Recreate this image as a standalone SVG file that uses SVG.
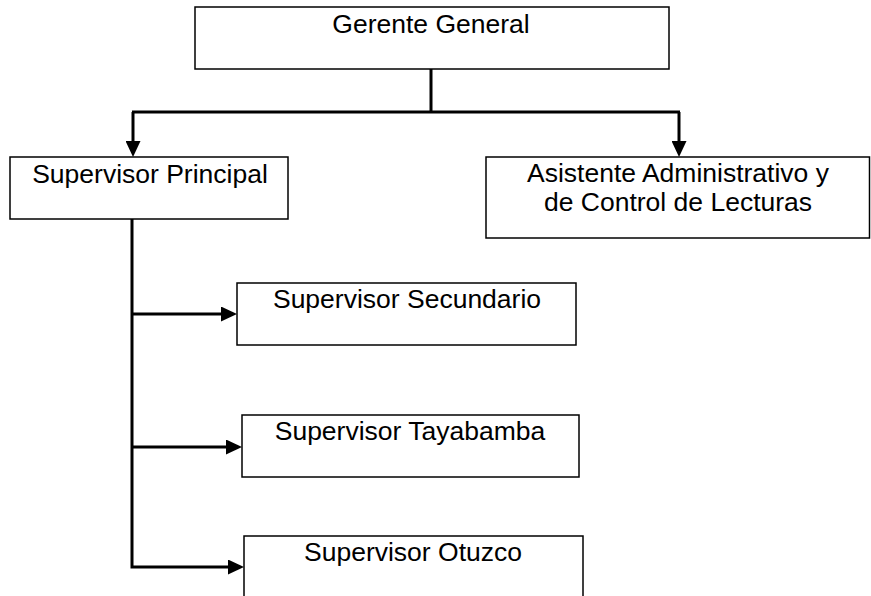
<svg xmlns="http://www.w3.org/2000/svg" width="871" height="596" viewBox="0 0 871 596">
<style>
.box{fill:#fff;stroke:#000;stroke-width:1.5}
.lbl{font-family:"Liberation Sans",Arial,sans-serif;font-size:26.5px;fill:#000;text-anchor:middle}
.con{fill:none;stroke:#000;stroke-width:3}
</style>
<defs>
<marker id="arr" viewBox="0 0 16 15" refX="0" refY="7.5" markerWidth="16" markerHeight="15" markerUnits="userSpaceOnUse" orient="auto">
<path d="M0,0 L16,7.5 L0,15 Z" fill="#000"/>
</marker>
</defs>
<g id="connectors">
<polyline class="con" points="431,69 431,112"/>
<polyline class="con" points="132,112 680,112"/>
<polyline class="con" points="133,112 133,141" marker-end="url(#arr)"/>
<polyline class="con" points="679,112 679,141" marker-end="url(#arr)"/>
<polyline class="con" points="132,219 132,567 228,567" marker-end="url(#arr)"/>
<polyline class="con" points="132,314 221,314" marker-end="url(#arr)"/>
<polyline class="con" points="132,447 226,447" marker-end="url(#arr)"/>
</g>
<g id="gerente">
<rect class="box" x="195" y="7" width="474" height="62"/>
<text class="lbl" x="431" y="33">Gerente General</text>
</g>
<g id="supervisor-principal">
<rect class="box" x="10" y="157" width="278" height="62"/>
<text class="lbl" x="150" y="183">Supervisor Principal</text>
</g>
<g id="asistente">
<rect class="box" x="486" y="157" width="383.5" height="81"/>
<text class="lbl" x="678" y="182">Asistente Administrativo y</text>
<text class="lbl" x="678" y="211">de Control de Lecturas</text>
</g>
<g id="supervisor-secundario">
<rect class="box" x="237" y="283" width="339" height="62"/>
<text class="lbl" x="407" y="308">Supervisor Secundario</text>
</g>
<g id="supervisor-tayabamba">
<rect class="box" x="242" y="415" width="337" height="62"/>
<text class="lbl" x="410" y="440">Supervisor Tayabamba</text>
</g>
<g id="supervisor-otuzco">
<rect class="box" x="244" y="536" width="339" height="80"/>
<text class="lbl" x="413" y="561">Supervisor Otuzco</text>
</g>
</svg>
